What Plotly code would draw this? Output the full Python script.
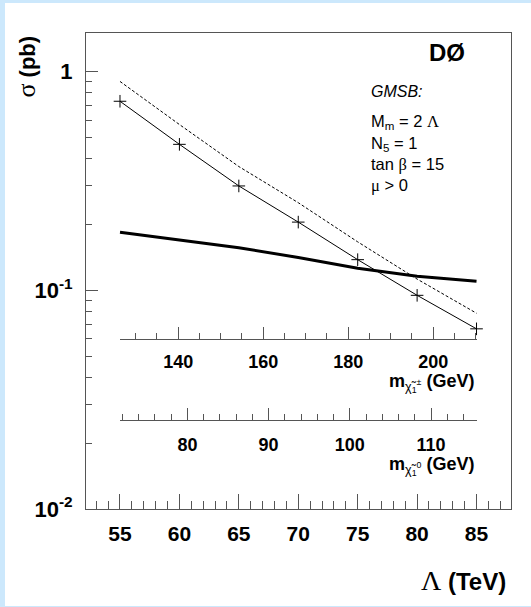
import plotly.graph_objects as go

W, H = 531, 607

# ---------------- data ----------------
lam = [55, 60, 65, 70, 75, 80, 85]                      # Lambda (TeV)
sigma_theory = [0.732, 0.465, 0.300, 0.205, 0.138, 0.0948, 0.0666]   # solid with + markers
sigma_dashed = [0.902, 0.573, 0.368, 0.2515, 0.1665, 0.1125, 0.0785]  # dashed
sigma_limit = [0.184, 0.170, 0.1566, 0.1412, 0.126, 0.116, 0.110]    # thick line

x_ticks = [55, 60, 65, 70, 75, 80, 85]
y_tickvals = [0.01, 0.1, 1]
y_ticktext = ["<b>10<sup>-2</sup></b>", "<b>10<sup>-1</sup></b>", "<b>1</b>"]

chargino_ticks = [140, 160, 180, 200]
chargino_range = [126.3, 210.3]
neutralino_ticks = [80, 90, 100, 110]
neutralino_range = [71.7, 115.66]

FONT = "Liberation Sans, Arial, Helvetica, sans-serif"
SERIF = "Liberation Serif"

def px(x):
    return x / W

def py(y):
    return 1 - y / H

fig = go.Figure()

fig.add_trace(go.Scatter(x=lam, y=sigma_dashed, mode="lines",
                         line=dict(color="black", width=1, dash="3px,2px"),
                         showlegend=False, hoverinfo="skip"))
fig.add_trace(go.Scatter(x=lam, y=sigma_theory, mode="lines+markers",
                         line=dict(color="black", width=1),
                         marker=dict(symbol="cross-thin", size=9,
                                     line=dict(color="black", width=1)),
                         showlegend=False, hoverinfo="skip"))
fig.add_trace(go.Scatter(x=lam, y=sigma_limit, mode="lines",
                         line=dict(color="black", width=3),
                         showlegend=False, hoverinfo="skip"))
# helper traces so that the mass axes are drawn
fig.add_trace(go.Scatter(x=chargino_range, y=[1, 1], xaxis="x2", yaxis="y",
                         mode="none", showlegend=False, hoverinfo="skip"))
fig.add_trace(go.Scatter(x=neutralino_range, y=[1, 1], xaxis="x3", yaxis="y",
                         mode="none", showlegend=False, hoverinfo="skip"))

minor_x = [v for v in range(53, 88) if v not in x_ticks]
minor_y = [m * d for d in (0.01, 0.1) for m in range(2, 10)]

axis_col = "#555555"
fig.update_layout(
    width=W, height=H,
    margin=dict(l=0, r=0, t=0, b=0),
    paper_bgcolor="#cce8fc",
    plot_bgcolor="rgba(0,0,0,0)",
    font=dict(family=FONT, color="black"),
    xaxis=dict(domain=[px(86), px(511)], range=[52.14, 87.9],
               showgrid=False, zeroline=False, mirror=True,
               showline=True, linecolor=axis_col, linewidth=1,
               ticks="inside", ticklen=15, tickcolor=axis_col, tickwidth=1,
               tickvals=x_ticks, ticktext=["<b>%d</b>" % v for v in x_ticks],
               tickfont=dict(size=21, family=FONT), ticklabelstandoff=6,
               minor=dict(ticks="inside", ticklen=8, tickcolor=axis_col,
                          tickvals=minor_x, showgrid=False),
               anchor="y"),
    yaxis=dict(domain=[py(520), py(34)], type="log", range=[-2, 0.1755],
               showgrid=False, zeroline=False, mirror=True,
               showline=True, linecolor=axis_col, linewidth=1,
               ticks="inside", ticklen=12, tickcolor=axis_col, tickwidth=1,
               tickvals=y_tickvals, ticktext=y_ticktext,
               tickfont=dict(size=22, family=FONT), ticklabelstandoff=8,
               minor=dict(ticks="inside", ticklen=6, tickcolor=axis_col,
                          tickvals=minor_y, showgrid=False),
               anchor="x"),
    xaxis2=dict(domain=[px(120), px(477)], range=chargino_range,
                anchor="free", position=py(346), side="bottom",
                showgrid=False, zeroline=False,
                showline=True, linecolor=axis_col, linewidth=1,
                ticks="inside", ticklen=12, tickcolor=axis_col,
                tickvals=chargino_ticks,
                ticktext=["<b>%d</b>" % v for v in chargino_ticks],
                tickfont=dict(size=18, family=FONT), ticklabelstandoff=7,
                minor=dict(ticks="inside", ticklen=6, tickcolor=axis_col,
                           dtick=5, tick0=0, showgrid=False)),
    xaxis3=dict(domain=[px(120), px(477)], range=neutralino_range,
                anchor="free", position=py(429), side="bottom",
                showgrid=False, zeroline=False,
                showline=True, linecolor=axis_col, linewidth=1,
                ticks="inside", ticklen=12, tickcolor=axis_col,
                tickvals=neutralino_ticks,
                ticktext=["<b>%d</b>" % v for v in neutralino_ticks],
                tickfont=dict(size=18, family=FONT), ticklabelstandoff=9,
                minor=dict(ticks="inside", ticklen=6, tickcolor=axis_col,
                           dtick=2, tick0=0, showgrid=False)),
)

# white panel behind everything
fig.add_shape(type="rect", xref="paper", yref="paper",
              x0=px(5), x1=1.02, y0=-0.02, y1=py(3),
              fillcolor="white", line=dict(width=0), layer="below")

def ann(text, x, y, size, xanchor="center", yanchor="middle", angle=0):
    fig.add_annotation(text=text, xref="paper", yref="paper",
                       x=px(x), y=py(y), xanchor=xanchor, yanchor=yanchor,
                       showarrow=False, textangle=angle,
                       font=dict(size=size, family=FONT, color="black"))

ann("<span style='font-family:%s;font-size:26px'>σ</span><b> (pb)</b>" % SERIF, 27, 68, 22, angle=-90)
ann("<span style='font-family:%s;font-size:28px'>Λ</span><b> (TeV)</b>" % SERIF, 508, 593, 24, xanchor="right")
ann("<b>m</b><sub>χ̃<sub>1</sub><sup>±</sup></sub><b> (GeV)</b>", 476, 391, 18, xanchor="right")
ann("<b>m</b><sub>χ̃<sub>1</sub><sup>0</sup></sub><b> (GeV)</b>", 476, 476, 18, xanchor="right")
ann("<b>DØ</b>", 467, 54, 24, xanchor="right")
ann("<i>GMSB:</i>", 369, 93, 16, xanchor="left")
ann("M<sub>m</sub> = 2 <span style='font-family:%s'>Λ</span>" % SERIF, 369, 125, 16.5, xanchor="left")
ann("N<sub>5</sub> = 1", 369, 147, 16.5, xanchor="left")
ann("tan <span style='font-family:%s'>β</span> = 15" % SERIF, 369, 168, 16.5, xanchor="left")
ann("<span style='font-family:%s'>μ</span> > 0" % SERIF, 369, 190, 16.5, xanchor="left")

fig.write_html("out.html")
